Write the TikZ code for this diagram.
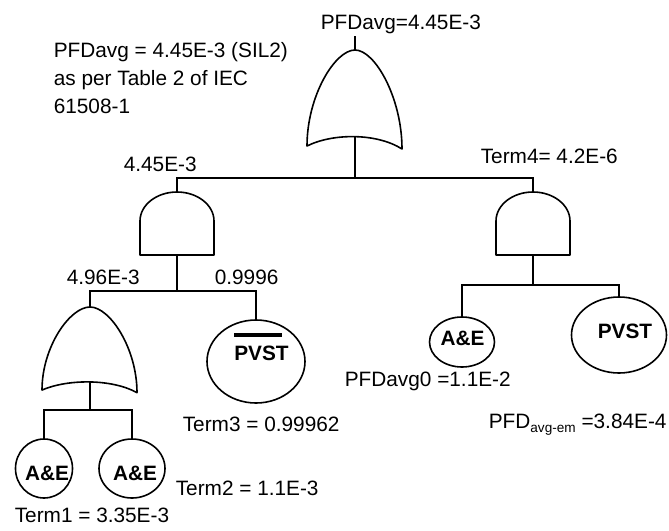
\documentclass[tikz,border=0pt]{standalone}
\usepackage{fontspec}
\setmainfont{Liberation Sans}
\usetikzlibrary{shapes.geometric}

\tikzset{
  orgate/.pic={
    \draw[gateline] (-48,96) .. controls (-48,46) and (-20,0) .. (0,0)
      .. controls (20,0) and (47,48) .. (47,99)
      .. controls (22,83) and (-22,83) .. cycle;
    \coordinate (-out) at (0,0);
    \coordinate (-in) at (0,86.6);
  },
  andgate/.pic={
    \draw[gateline] (-37,63) -- (-37,29) .. controls (-37,13) and (-20.4,0) .. (0,0)
      .. controls (20.4,0) and (37,13) .. (37,29) -- (37,63) -- cycle;
    \coordinate (-out) at (0,0);
    \coordinate (-in) at (0,63);
  }
}

\begin{document}
\begin{tikzpicture}[x=0.5pt, y=-0.5pt, line width=0.8pt,
  font=\fontsize{10.4}{12.5}\selectfont,
  gateline/.style={draw, line join=round},
  event/.style={ellipse, draw, inner sep=0pt},
  evtext/.style={anchor=base, inner sep=0pt, font=\fontsize{10.4}{12.5}\selectfont\bfseries},
  txt/.style={anchor=base west, inner sep=0pt}]
  \useasboundingbox (0,0) rectangle (669,530);

  % top OR gate
  \pic (or1) at (355,50) {orgate};
  \coordinate (top) at (355,36);
  \draw (or1-out) -- (top);
  \node[txt] (toplbl) at (320,29) {PFDavg=4.45E-3};

  % note
  \node[txt] (note1) at (53,57) {PFDavg = 4.45E-3 (SIL2)};
  \node[txt] (note2) at (53,85) {as per Table 2 of IEC};
  \node[txt] (note3) at (53,113) {61508-1};

  % the two AND gates
  \pic (and1) at (177,192) {andgate};
  \pic (and2) at (533,192) {andgate};
  \coordinate (bus1) at (355,178);
  \draw (or1-in) -- (bus1);
  \draw (and1-out) |- (bus1) -| (and2-out);
  \node[txt] (p1) at (123,171) {4.45E-3};
  \node[txt] (term4) at (480,163) {Term4= 4.2E-6};

  % left branch
  \pic[yscale=0.865] (or2) at (90,307) {orgate};
  \node[event, minimum width=49pt, minimum height=41.5pt] (pvst1) at (256,361.5) {};
  \node[evtext] (pvst1lbl) at (261.5,360) {\vbox{\hrule height 2pt width 24pt\kern 4pt\hbox{PVST}}};
  \coordinate (bus2) at (177,291);
  \draw (and1-in) -- (bus2);
  \draw (or2-out) |- (bus2) -| (pvst1.north);
  \node[txt] (p2) at (66,284) {4.96E-3};
  \node[txt] (p3) at (214,284) {0.9996};
  \node[txt] (term3) at (182,431) {Term3 = 0.99962};

  % inputs of the lower OR gate
  \node[event, minimum width=28.5pt, minimum height=29.5pt] (ae1) at (44,468.5) {};
  \node[event, minimum width=33pt, minimum height=29.5pt] (ae2) at (132,468.5) {};
  \node[evtext] (ae1lbl) at (47,480) {A\&E};
  \node[evtext] (ae2lbl) at (135,480) {A\&E};
  \coordinate (bus4) at (90,410);
  \draw (or2-in) -- (bus4);
  \draw (ae1.north) |- (bus4) -| (ae2.north);
  \node[txt] (term2) at (175,495) {Term2 = 1.1E-3};
  \node[txt] (term1) at (14,522) {Term1 = 3.35E-3};

  % right branch
  \node[event, minimum width=32.5pt, minimum height=25pt] (ae3) at (462,342) {};
  \node[event, minimum width=47.5pt, minimum height=38pt] (pvst2) at (619,335) {};
  \node[evtext] (ae3lbl) at (462.5,345) {A\&E};
  \node[evtext] (pvst2lbl) at (625,338) {PVST};
  \coordinate (bus3) at (533,285);
  \draw (and2-in) -- (bus3);
  \draw (ae3.north) |- (bus3) -| (pvst2.north);
  \node[txt] (pfd0) at (344,386) {PFDavg0 =1.1E-2};
  \node[txt] (pfdem) at (488,428) {PFD\raisebox{-2pt}{\fontsize{6.8}{8}\selectfont avg-em} =3.84E-4};
\end{tikzpicture}
\end{document}
